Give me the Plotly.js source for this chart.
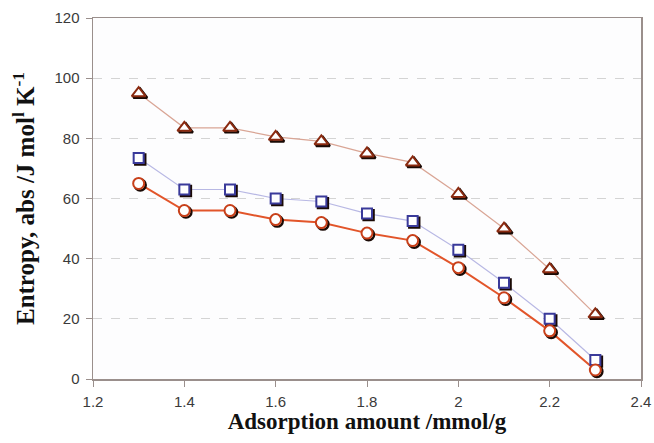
<!DOCTYPE html>
<html>
<head>
<meta charset="utf-8">
<script src="https://cdn.plot.ly/plotly-3.0.1.min.js"></script>
<style>html,body{margin:0;padding:0;background:#fff;}#chart{width:654px;height:443px;}</style>
</head>
<body>
<div id="chart"></div>
<script>
const adsorption = [1.3, 1.4, 1.5, 1.6, 1.7, 1.8, 1.9, 2.0, 2.1, 2.2, 2.3];
const entropyTriangle = [95, 83.5, 83.5, 80.5, 79, 75, 72, 61.5, 50, 36.5, 21.5];
const entropySquare = [73.5, 63, 63, 60, 59, 55, 52.5, 43, 32, 20, 6.3];
const entropyCircle = [65, 56, 56, 53, 52, 48.5, 46, 37, 27, 16, 3];
const xTicks = [1.2, 1.4, 1.6, 1.8, 2, 2.2, 2.4];
const yTicks = [0, 20, 40, 60, 80, 100, 120];

const series = [
  {y: entropyTriangle, symbol: 'triangle-up', line: '#d9a595', lw: 1.2, edge: '#8a2a10', size: 12},
  {y: entropySquare, symbol: 'square', line: '#b8b8e4', lw: 1.2, edge: '#3a3a9a', size: 10},
  {y: entropyCircle, symbol: 'circle', line: '#e2552a', lw: 2, edge: '#c8401a', size: 11}
];

const traces = [];
series.forEach(s => traces.push({
  x: adsorption, y: s.y, xaxis: 'x', yaxis: 'y', mode: 'lines', hoverinfo: 'skip',
  line: {color: s.line, width: s.lw}
}));
series.forEach(s => traces.push({
  x: adsorption, y: s.y, xaxis: 'x2', yaxis: 'y2', mode: 'markers', hoverinfo: 'skip',
  marker: {symbol: s.symbol, size: s.size, color: 'rgba(0,0,0,0)', line: {color: '#1a0a05', width: 2.4}}
}));
series.forEach(s => traces.push({
  x: adsorption, y: s.y, xaxis: 'x3', yaxis: 'y3', mode: 'markers',
  marker: {symbol: s.symbol, size: s.size, color: '#ffffff', line: {color: s.edge, width: 2}}
}));

const dx = 1.2 / 547 * 1.6, dy = 120 / 361 * 1.6;
const titleFont = {family: 'Liberation Serif, Times New Roman, serif', size: 23, color: '#111', weight: 'bold'};
const layout = {
  width: 654, height: 443,
  margin: {l: 93, r: 13, t: 18, b: 64},
  paper_bgcolor: '#ffffff', plot_bgcolor: '#fdfdfe',
  showlegend: false,
  font: {family: 'Liberation Sans, Arial, sans-serif', color: '#333'},
  xaxis: {
    range: [1.2, 2.4], tickvals: xTicks, ticktext: xTicks.map(String),
    showgrid: false, zeroline: false, showline: true, linecolor: '#9a8f8c', linewidth: 1.5, mirror: true,
    ticks: 'outside', ticklen: 6, tickcolor: '#9a8f8c', tickfont: {size: 15, color: '#3a3a3a'},
    ticklabelstandoff: 2,
    title: {text: 'Adsorption amount /mmol/g', font: titleFont, standoff: 0}
  },
  yaxis: {
    range: [0, 120], tickvals: yTicks, ticktext: yTicks.map(String),
    showgrid: true, gridcolor: '#d4d4d4', griddash: 'dash', gridwidth: 1, zeroline: false,
    showline: true, linecolor: '#9a8f8c', linewidth: 1.5, mirror: true,
    ticks: 'outside', ticklen: 6, tickcolor: '#9a8f8c', tickfont: {size: 15, color: '#3a3a3a'},
    ticklabelstandoff: 3,
    title: {text: 'Entropy, abs /J mol<sup>l</sup> K<sup>-1</sup>', font: Object.assign({}, titleFont, {size: 25}), standoff: 12}
  },
  xaxis2: {overlaying: 'x', anchor: 'y2', range: [1.2 - dx, 2.4 - dx], visible: false},
  yaxis2: {overlaying: 'y', anchor: 'x2', range: [0 + dy, 120 + dy], visible: false},
  xaxis3: {overlaying: 'x', anchor: 'y3', range: [1.2, 2.4], visible: false},
  yaxis3: {overlaying: 'y', anchor: 'x3', range: [0, 120], visible: false}
};

Plotly.newPlot('chart', traces, layout, {displayModeBar: false, staticPlot: true});
</script>
</body>
</html>
